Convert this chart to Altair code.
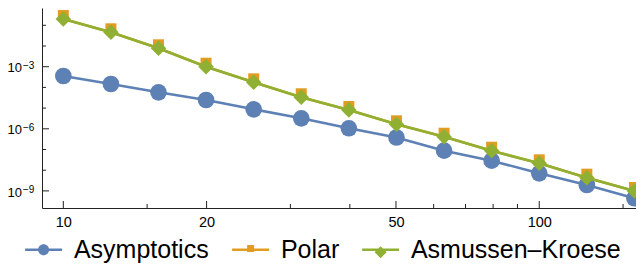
import altair as alt
import pandas as pd

# ---- data ----
n_values = [10, 12.59, 15.85, 19.95, 25.12, 31.62, 39.81, 50.12, 63.10, 79.43, 100, 125.9, 158.5]
asymptotics = [3.56e-4, 1.46e-4, 5.79e-5, 2.46e-5, 8.75e-6, 3.21e-6, 1.06e-6, 3.8e-7,
               8.75e-8, 2.88e-8, 7.08e-9, 1.93e-9, 4.4e-10]
polar = [0.201, 0.0459, 7.74e-3, 1.0e-3, 1.76e-4, 3.33e-5, 8.09e-6, 1.65e-6,
         4.15e-7, 8.75e-8, 2.15e-8, 4.35e-9, 9.9e-10]
asmussen_kroese = [0.201, 0.0459, 7.74e-3, 1.0e-3, 1.76e-4, 3.33e-5, 8.09e-6, 1.65e-6,
                   4.15e-7, 8.75e-8, 2.15e-8, 4.35e-9, 9.9e-10]
series_names = ["Asymptotics", "Polar", "Asmussen–Kroese"]
colors = ["#5E81B5", "#E19C24", "#8FB032"]

x_major = [10, 20, 50, 100]
x_minor = [15, 30, 40, 60, 70, 80, 90, 150]
y_major = [1e-9, 1e-6, 1e-3]
y_base_labels = ["10", "10", "10"]
y_exponents = ["−9", "−6", "−3"]
y_minor = [1e-8, 1e-7, 1e-5, 1e-4, 1e-2, 1e-1]

FONT = "Liberation Sans"
W, H = 594, 200
xscale = alt.Scale(type="log", domain=[9.02, 159.7], nice=False)
yscale = alt.Scale(type="log", domain=[1.493e-10, 0.6855], nice=False)

rows = []
for name, vals in zip(series_names, [asymptotics, polar, asmussen_kroese]):
    for xv, yv in zip(n_values, vals):
        rows.append({"n": xv, "p": yv, "series": name})
df = pd.DataFrame(rows)
base = alt.Chart(df)

x_axis = alt.Axis(values=x_major, format="d", labelFontSize=14.5, labelFont=FONT,
                  labelColor="black", ticks=False, tickSize=0, labelPadding=7,
                  domainColor="#222", domainWidth=1, grid=False, title=None)
y_axis = alt.Axis(values=y_major, labels=False, ticks=False, tickSize=0,
                  domainColor="#222", domainWidth=1, grid=False, title=None)


def X(field):
    return alt.X(field, scale=xscale, axis=x_axis)


def Y(field):
    return alt.Y(field, scale=yscale, axis=y_axis)


layers = []
specs = [("Asymptotics", colors[0], "circle", 278, 0),
         ("Polar", colors[1], "square", 121, -3.5),
         ("Asmussen–Kroese", colors[2], "diamond", 240, 0)]
for name, color, shape, size, yoff in specs:
    sub = base.transform_filter(alt.datum.series == name)
    layers.append(sub.mark_line(color=color, strokeWidth=2.6).encode(x=X("n:Q"), y=Y("p:Q")))
    layers.append(sub.mark_point(shape=shape, filled=True, size=size, color=color,
                                 opacity=1, yOffset=yoff).encode(x=X("n:Q"), y=Y("p:Q")))


# inward frame ticks
def xticks(vals, length):
    return alt.Chart(pd.DataFrame({"n": vals})).mark_rule(color="#222", strokeWidth=1).encode(
        x=X("n:Q"), y=alt.value(H), y2=alt.value(H - length))


def yticks(vals, length):
    return alt.Chart(pd.DataFrame({"p": vals})).mark_rule(color="#222", strokeWidth=1).encode(
        y=Y("p:Q"), x=alt.value(0), x2=alt.value(length))


layers += [xticks(x_major, 7), xticks(x_minor, 4), yticks(y_major, 7), yticks(y_minor, 4)]

# y tick labels as 10 with a raised exponent
ylab_df = pd.DataFrame({"p": y_major, "b": y_base_labels, "e": y_exponents})
layers.append(alt.Chart(ylab_df).mark_text(align="right", baseline="alphabetic", fontSize=13,
                                           font=FONT, color="black", dy=5.6).encode(
    y=Y("p:Q"), x=alt.value(-20), text="b:N"))
layers.append(alt.Chart(ylab_df).mark_text(align="left", baseline="alphabetic", fontSize=10,
                                           font=FONT, color="black", dy=2.3).encode(
    y=Y("p:Q"), x=alt.value(-19), text="e:N"))

# legend: line + marker symbols as custom paths
paths = [
    "M-1.54,-0.11H1.54V0.11H-1.54Z M0.46,0A0.46,0.46 0 1,1 -0.46,0A0.46,0.46 0 1,1 0.46,0Z",
    "M-1.54,-0.11H1.54V0.11H-1.54Z M-0.29,-0.4H0.29V0.18H-0.29Z",
    "M-1.54,-0.11H1.54V0.11H-1.54Z M-0.5,0.2L0,-0.3L0.5,0.2L0,0.7Z",
]
leg = alt.Legend(orient="none", legendX=-17.4, legendY=229, direction="horizontal",
                 title=None, symbolSize=576, symbolStrokeWidth=0, symbolOpacity=1,
                 symbolOffset=6.5, labelOffset=17.8, labelFontSize=25, labelFont=FONT,
                 labelColor="black", columnPadding=22, padding=0, labelLimit=400)
legend_df = pd.DataFrame({"series": series_names, "n": [n_values[0]] * 3, "p": [polar[3]] * 3})
legend_layer = alt.Chart(legend_df).mark_point(filled=True, opacity=0).encode(
    x=X("n:Q"),
    y=Y("p:Q"),
    color=alt.Color("series:N", scale=alt.Scale(domain=series_names, range=colors), legend=leg),
    shape=alt.Shape("series:N", scale=alt.Scale(domain=series_names, range=paths), legend=leg),
)
layers.append(legend_layer)

chart = alt.layer(*layers).properties(
    width=W, height=H,
    padding={"left": 34, "top": 0, "right": 0, "bottom": 57},
    autosize=alt.AutoSizeParams(type="none"),
).configure_view(stroke=None)

chart.save("out.html", embed_options={"renderer": "svg", "actions": False})
